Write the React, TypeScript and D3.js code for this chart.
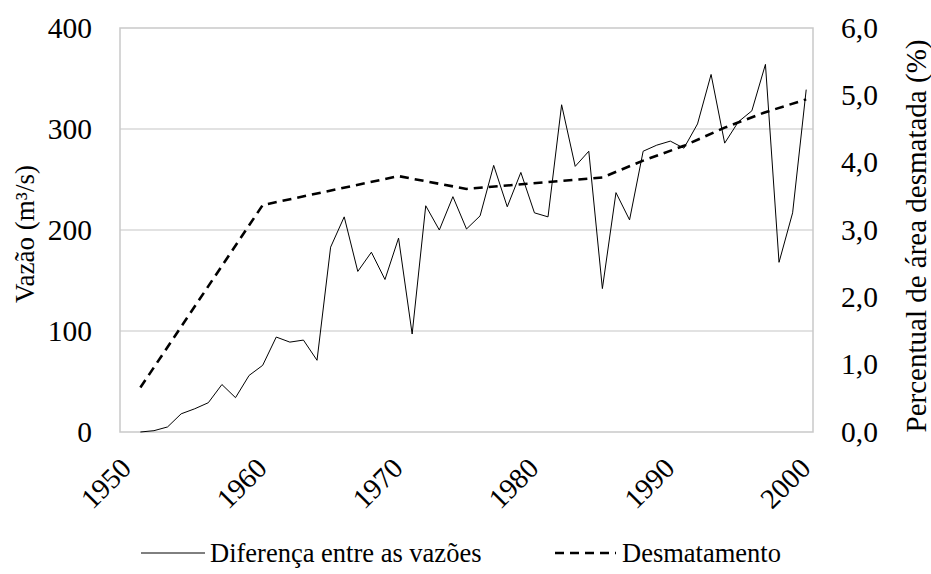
import * as d3 from 'd3';

const years = [
  1951, 1952, 1953, 1954, 1955, 1956, 1957, 1958, 1959, 1960,
  1961, 1962, 1963, 1964, 1965, 1966, 1967, 1968, 1969, 1970,
  1971, 1972, 1973, 1974, 1975, 1976, 1977, 1978, 1979, 1980,
  1981, 1982, 1983, 1984, 1985, 1986, 1987, 1988, 1989, 1990,
  1991, 1992, 1993, 1994, 1995, 1996, 1997, 1998, 1999, 2000,
];
const diferenca = [
  0, 1.3, 5, 18, 23, 29, 47, 34, 56, 66,
  94, 89, 91, 71, 183, 213, 159, 178, 151, 192,
  97, 224, 200, 233, 201, 214, 264, 223, 257, 217,
  213, 324, 263, 278, 142, 237, 210, 278, 284, 288,
  281, 305, 354, 286, 307, 318, 364, 168, 217, 339,
];
const desmYears = [1951, 1960, 1970, 1975, 1985, 1988, 1991, 1994, 1997, 2000];
const desmatamento = [0.66, 3.37, 3.8, 3.61, 3.78, 4.03, 4.25, 4.52, 4.75, 4.94];

const leftTicks = [0, 100, 200, 300, 400];
const rightTicks = [0, 1, 2, 3, 4, 5, 6];
const xLabels = [1950, 1960, 1970, 1980, 1990, 2000];

const font = "Liberation Serif";

const App = () => {
  const width = 931, height = 574;
  const margin = { top: 28, right: 118, bottom: 142, left: 120 };
  const plotRight = width - margin.right;
  const plotBottom = height - margin.bottom;

  const x = d3.scaleLinear().domain([1949.5, 2000.5]).range([margin.left, plotRight]);
  const y = d3.scaleLinear().domain([0, 400]).range([plotBottom, margin.top]);
  const y2 = d3.scaleLinear().domain([0, 6]).range([plotBottom, margin.top]);

  const solid = d3.line<number>()
    .x((_, i) => x(years[i]))
    .y((d) => y(d))(diferenca);
  const dashed = d3.line<number>()
    .x((_, i) => x(desmYears[i]))
    .y((d) => y2(d))(desmatamento);

  const fmt = (v: number) => v.toFixed(1).replace('.', ',');

  return (
    <svg width={width} height={height} fontFamily={font} style={{ position: 'absolute', left: 0, top: 0 }}>
      <rect width={width} height={height} fill="#fff" />
      {leftTicks.slice(1, -1).map((t) => (
        <line key={'g' + t} x1={margin.left} x2={plotRight} y1={y(t)} y2={y(t)} stroke="#d9d9d9" strokeWidth={1.5} />
      ))}
      <rect x={margin.left} y={margin.top} width={plotRight - margin.left} height={plotBottom - margin.top}
        fill="none" stroke="#c9c9c9" strokeWidth={1.5} />

      {leftTicks.map((t) => (
        <text key={'l' + t} fontFamily={font} x={92} y={y(t)} dy="0.33em" textAnchor="end" fontSize={29.5}>{t}</text>
      ))}
      {rightTicks.map((t) => (
        <text key={'r' + t} fontFamily={font} x={841} y={y2(t)} dy="0.33em" textAnchor="start" fontSize={29.5}>{fmt(t)}</text>
      ))}
      {xLabels.map((t) => (
        <text key={'x' + t} fontFamily={font} textAnchor="end" fontSize={28.5}
          transform={`translate(${x(t) + 6},${plotBottom + 38}) rotate(-45)`}>{t}</text>
      ))}

      <text fontFamily={font} transform="translate(34,234) rotate(-90)" textAnchor="middle" fontSize={27}>
        Vazão (m³/s)
      </text>
      <text fontFamily={font} transform="translate(926,236) rotate(-90)" textAnchor="middle" fontSize={29}>
        Percentual de área desmatada (%)
      </text>

      <path d={solid ?? ''} fill="none" stroke="#000" strokeWidth={1} />
      <path d={dashed ?? ''} fill="none" stroke="#000" strokeWidth={2.6} strokeDasharray="9,6" />

      <g transform="translate(0,553)" fontSize={26.5} fontFamily={font}>
        <line x1={141} x2={205} y1={0} y2={0} stroke="#000" strokeWidth={1} />
        <text x={210} dy="0.35em">Diferença entre as vazões</text>
        <line x1={555} x2={616} y1={0} y2={0} stroke="#000" strokeWidth={2.6} strokeDasharray="9,6" />
        <text x={622} dy="0.35em">Desmatamento</text>
      </g>
    </svg>
  );
};

export default App;
